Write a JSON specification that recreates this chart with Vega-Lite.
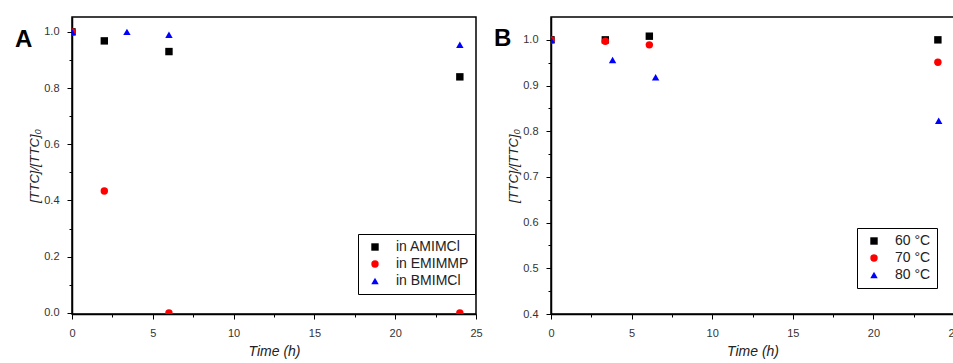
{
  "$schema": "https://vega.github.io/schema/vega-lite/v6.json",
  "background": "white",
  "autosize": {"type": "pad"},
  "padding": {"left": 14, "top": 16, "right": 0, "bottom": 0},
  "spacing": 10,
  "datasets": {
    "a": [
      {"time": 0, "ratio": 1.0, "series": "in AMIMCl"},
      {"time": 2, "ratio": 0.968, "series": "in AMIMCl"},
      {"time": 6, "ratio": 0.93, "series": "in AMIMCl"},
      {"time": 24, "ratio": 0.84, "series": "in AMIMCl"},
      {"time": 0, "ratio": 1.0, "series": "in EMIMMP"},
      {"time": 2, "ratio": 0.434, "series": "in EMIMMP"},
      {"time": 6, "ratio": 0.0, "series": "in EMIMMP"},
      {"time": 24, "ratio": 0.0, "series": "in EMIMMP"},
      {"time": 0, "ratio": 1.0, "series": "in BMIMCl"},
      {"time": 3.4, "ratio": 1.0, "series": "in BMIMCl"},
      {"time": 6, "ratio": 0.99, "series": "in BMIMCl"},
      {"time": 24, "ratio": 0.954, "series": "in BMIMCl"}
    ],
    "b": [
      {"time": 0, "ratio": 1.0, "series": "60 °C"},
      {"time": 3.37, "ratio": 1.0, "series": "60 °C"},
      {"time": 6.1, "ratio": 1.008, "series": "60 °C"},
      {"time": 24, "ratio": 1.0, "series": "60 °C"},
      {"time": 0, "ratio": 1.0, "series": "70 °C"},
      {"time": 3.37, "ratio": 0.997, "series": "70 °C"},
      {"time": 6.1, "ratio": 0.989, "series": "70 °C"},
      {"time": 24, "ratio": 0.951, "series": "70 °C"},
      {"time": 0, "ratio": 1.0, "series": "80 °C"},
      {"time": 3.82, "ratio": 0.956, "series": "80 °C"},
      {"time": 6.49, "ratio": 0.918, "series": "80 °C"},
      {"time": 24.05, "ratio": 0.823, "series": "80 °C"}
    ]
  },
  "config": {
    "font": "Liberation Sans",
    "view": {"stroke": "black", "strokeWidth": 1.5},
    "axis": {
      "grid": false,
      "domainColor": "black",
      "domainWidth": 1.5,
      "tickColor": "black",
      "tickWidth": 1,
      "labelColor": "#333333",
      "labelFont": "Liberation Sans",
      "labelFontSize": 11,
      "titleFont": "Liberation Sans",
      "titleFontStyle": "italic",
      "titleFontWeight": "normal",
      "titleFontSize": 14,
      "titleColor": "#222222"
    },
    "legend": {
      "orient": "none",
      "title": null,
      "strokeColor": "black",
      "fillColor": "white",
      "padding": 6,
      "labelFont": "Liberation Sans",
      "labelFontSize": 14,
      "labelColor": "#222222",
      "symbolSize": 55,
      "symbolOffset": 4,
      "labelOffset": 14,
      "rowPadding": 3,
      "symbolStrokeWidth": 0
    },
    "title": {"font": "Liberation Sans", "fontSize": 24, "fontWeight": "bold", "color": "black"}
  },
  "resolve": {"scale": {"color": "independent", "shape": "independent"}},
  "hconcat": [
    {
      "width": 404,
      "height": 297,
      "title": {"text": "A", "anchor": "start", "frame": "group", "orient": "top", "offset": 0, "dx": -57, "dy": 54, "baseline": "alphabetic"},
      "data": {"name": "a"},
      "mark": {"type": "point", "filled": true, "opacity": 1, "size": 55, "clip": true},
      "encoding": {
        "x": {
          "field": "time", "type": "quantitative",
          "scale": {"domain": [0, 25], "nice": false, "zero": false},
          "axis": {
            "title": "Time (h)",
            "values": [0, 2.5, 5, 7.5, 10, 12.5, 15, 17.5, 20, 22.5, 25],
            "labelExpr": "datum.value % 5 === 0 ? datum.label : ''",
            "tickSize": {"condition": {"test": "datum.value % 5 === 0", "value": 5}, "value": 3},
            "labelPadding": 8,
            "titlePadding": 6,
            "labelFlush": false
          }
        },
        "y": {
          "field": "ratio", "type": "quantitative",
          "scale": {"domain": [-0.004, 1.053], "nice": false, "zero": false},
          "axis": {
            "title": "[TTC]/[TTC]₀",
            "titleFontSize": 13,
            "values": [0, 0.1, 0.2, 0.3, 0.4, 0.5, 0.6, 0.7, 0.8, 0.9, 1.0],
            "format": ".1f",
            "labelExpr": "round(datum.value * 10) % 2 === 0 ? datum.label : ''",
            "tickSize": {"condition": {"test": "round(datum.value * 10) % 2 === 0", "value": 5}, "value": 3},
            "labelPadding": 8,
            "titlePadding": 2
          }
        },
        "color": {
          "field": "series", "type": "nominal",
          "scale": {"domain": ["in AMIMCl", "in EMIMMP", "in BMIMCl"], "range": ["#000000", "#ff0000", "#0000ff"]},
          "legend": {"legendX": 286, "legendY": 217}
        },
        "shape": {
          "field": "series", "type": "nominal",
          "scale": {"domain": ["in AMIMCl", "in EMIMMP", "in BMIMCl"], "range": ["square", "circle", "triangle-up"]},
          "legend": {"legendX": 286, "legendY": 217}
        }
      }
    },
    {
      "width": 403,
      "height": 297,
      "title": {"text": "B", "anchor": "start", "frame": "group", "orient": "top", "offset": 0, "dx": -57, "dy": 53, "baseline": "alphabetic"},
      "data": {"name": "b"},
      "mark": {"type": "point", "filled": true, "opacity": 1, "size": 55, "clip": true},
      "encoding": {
        "x": {
          "field": "time", "type": "quantitative",
          "scale": {"domain": [0, 25], "nice": false, "zero": false},
          "axis": {
            "title": "Time (h)",
            "values": [0, 2.5, 5, 7.5, 10, 12.5, 15, 17.5, 20, 22.5, 25],
            "labelExpr": "datum.value % 5 === 0 ? datum.label : ''",
            "tickSize": {"condition": {"test": "datum.value % 5 === 0", "value": 5}, "value": 3},
            "labelPadding": 8,
            "titlePadding": 6,
            "labelFlush": false
          }
        },
        "y": {
          "field": "ratio", "type": "quantitative",
          "scale": {"domain": [0.4, 1.05], "nice": false, "zero": false},
          "axis": {
            "title": "[TTC]/[TTC]₀",
            "titleFontSize": 13,
            "values": [0.4, 0.45, 0.5, 0.55, 0.6, 0.65, 0.7, 0.75, 0.8, 0.85, 0.9, 0.95, 1.0],
            "format": ".1f",
            "labelExpr": "abs(datum.value * 10 - round(datum.value * 10)) < 0.001 ? datum.label : ''",
            "tickSize": {"condition": {"test": "abs(datum.value * 10 - round(datum.value * 10)) < 0.001", "value": 5}, "value": 3},
            "labelPadding": 8,
            "titlePadding": 2
          }
        },
        "color": {
          "field": "series", "type": "nominal",
          "scale": {"domain": ["60 °C", "70 °C", "80 °C"], "range": ["#000000", "#ff0000", "#0000ff"]},
          "legend": {"legendX": 306, "legendY": 211}
        },
        "shape": {
          "field": "series", "type": "nominal",
          "scale": {"domain": ["60 °C", "70 °C", "80 °C"], "range": ["square", "circle", "triangle-up"]},
          "legend": {"legendX": 306, "legendY": 211}
        }
      }
    }
  ]
}
